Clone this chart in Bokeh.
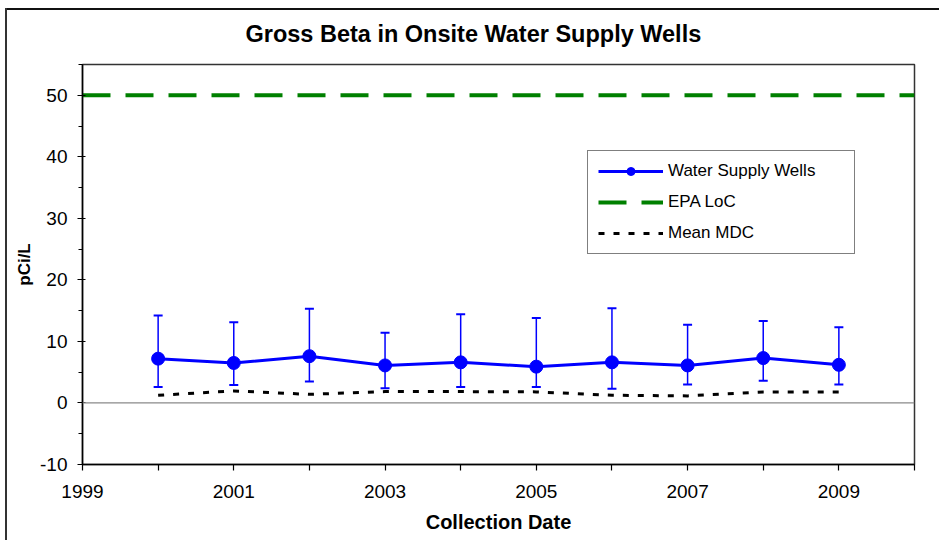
from bokeh.plotting import figure
from bokeh.models import (ColumnDataSource, Whisker, Span, Legend, LegendItem,
                          FixedTicker, Range1d, TeeHead)
from bokeh.embed import file_html
from bokeh.resources import INLINE

# ---- data ----
years = [2000, 2001, 2002, 2003, 2004, 2005, 2006, 2007, 2008, 2009]
wells_mean = [7.2, 6.5, 7.6, 6.1, 6.6, 5.9, 6.6, 6.1, 7.3, 6.2]
wells_upper = [14.2, 13.1, 15.3, 11.4, 14.4, 13.8, 15.4, 12.7, 13.3, 12.3]
wells_lower = [2.6, 2.9, 3.5, 2.4, 2.6, 2.6, 2.3, 3.0, 3.6, 3.0]
mean_mdc = [1.25, 1.95, 1.4, 1.85, 1.85, 1.8, 1.25, 1.15, 1.8, 1.8]
epa_loc = 50
x_start, x_end = 1999, 2010
y_start, y_end = -10, 55
x_major_ticks = [1999, 2001, 2003, 2005, 2007, 2009]
x_minor_ticks = [2000, 2002, 2004, 2006, 2008, 2010]
y_major_ticks = [-10, 0, 10, 20, 30, 40, 50]
y_minor_ticks = [-5, 5, 15, 25, 35, 45, 55]

FONT = "Liberation Sans"

src = ColumnDataSource(dict(x=years, y=wells_mean, upper=wells_upper, lower=wells_lower))

p = figure(width=939, height=540, output_backend="svg", toolbar_location=None,
           x_range=Range1d(x_start, x_end), y_range=Range1d(y_start, y_end),
           min_border_left=82, min_border_right=25, min_border_top=64, min_border_bottom=76)

# chart-area border (left and top edges, as in the reference)
p.border_fill_alpha = 0
p.styles = {
    "background": ("linear-gradient(#333333, #333333) 5px 8px / 2px 100% no-repeat, "
                   "linear-gradient(#111111, #111111) 5px 8px / 100% 2px no-repeat, white"),
}

p.xgrid.grid_line_color = None
p.ygrid.grid_line_color = None
p.outline_line_color = "#333333"
p.outline_line_width = 1.5
p.background_fill_color = "white"

# title
p.title.text = "Gross Beta in Onsite Water Supply Wells"
p.title.text_font = FONT
p.title.text_font_size = "23.5px"
p.title.text_font_style = "bold"
p.title.text_color = "black"
p.title.align = "left"
p.title.offset = 163
p.title.standoff = 36

# axes
for ax in (p.xaxis[0], p.yaxis[0]):
    ax.axis_line_color = "black"
    ax.axis_line_width = 1.5
    ax.major_tick_line_color = "black"
    ax.minor_tick_line_color = "black"
    ax.major_tick_line_width = 1.2
    ax.minor_tick_line_width = 1.2
    ax.major_label_text_font = FONT
    ax.major_label_text_font_size = "19px"
    ax.major_label_text_color = "black"
    ax.axis_label_text_font = FONT
    ax.axis_label_text_font_style = "bold"
    ax.axis_label_text_color = "black"

p.xaxis.ticker = FixedTicker(ticks=x_major_ticks, minor_ticks=x_minor_ticks)
p.xaxis.major_tick_out = 6
p.xaxis.major_tick_in = 0
p.xaxis.minor_tick_out = 6
p.xaxis.minor_tick_in = 0
p.xaxis.major_label_standoff = 14
p.xaxis.axis_label = "Collection Date"
p.xaxis.axis_label_text_font_size = "20px"
p.xaxis.axis_label_standoff = 10

p.yaxis.ticker = FixedTicker(ticks=y_major_ticks, minor_ticks=y_minor_ticks)
p.yaxis.major_label_overrides = {-10: "-10"}
p.yaxis.major_tick_out = 5
p.yaxis.major_tick_in = 3
p.yaxis.minor_tick_out = 4
p.yaxis.minor_tick_in = 0
p.yaxis.major_label_standoff = 10
p.yaxis.axis_label = "pCi/L"
p.yaxis.axis_label_text_font_size = "17px"
p.yaxis.axis_label_standoff = 3

# zero line
p.add_layout(Span(location=0, dimension="width", line_color="#8a8a8a", line_width=1.2))

# EPA LoC
epa_r = p.line([x_start, x_end], [epa_loc, epa_loc], line_color="#008000",
               line_width=4, line_dash="28 15")

# Mean MDC
mdc_r = p.line(years, mean_mdc, line_color="black", line_width=3, line_dash="6 9")

# error bars
wh = Whisker(source=src, base="x", upper="upper", lower="lower",
             line_color="#0000ff", line_width=1.5,
             upper_head=TeeHead(size=9, line_color="#0000ff", line_width=2),
             lower_head=TeeHead(size=9, line_color="#0000ff", line_width=2))
p.add_layout(wh)

line_r = p.line("x", "y", source=src, line_color="#0000ff", line_width=3)
pts_r = p.scatter("x", "y", source=src, size=13, fill_color="#0000ff", line_color="#0000ff")

legend = Legend(items=[
    LegendItem(label="Water Supply Wells", renderers=[line_r, pts_r]),
    LegendItem(label="EPA LoC", renderers=[epa_r]),
    LegendItem(label="Mean MDC", renderers=[mdc_r]),
], location=(505, 210))
legend.glyph_width = 65
legend.glyph_height = 20
legend.label_height = 20
legend.label_width = 176
legend.spacing = 11
legend.padding = 10
legend.margin = 0
legend.label_standoff = 5
legend.label_text_font = FONT
legend.label_text_font_size = "17px"
legend.label_text_color = "black"
legend.border_line_color = "black"
legend.border_line_width = 1
legend.background_fill_color = "white"
legend.background_fill_alpha = 1
p.add_layout(legend, "center")

open("out.html", "w").write(file_html(p, INLINE))
